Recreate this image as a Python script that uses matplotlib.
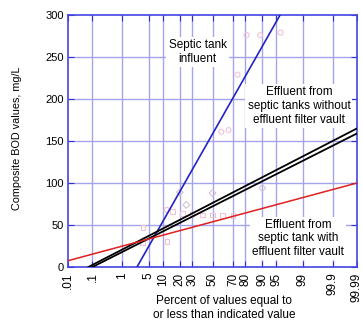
import numpy as np
import matplotlib
matplotlib.use("Agg")
import matplotlib.pyplot as plt
from statistics import NormalDist

plt.rcParams['font.family'] = ['Liberation Sans', 'DejaVu Sans']

# probability axis ticks (percent)
pct_ticks = [0.01, 0.1, 1, 5, 10, 20, 30, 50, 70, 80, 90, 95, 99, 99.9, 99.99]
pct_labels = ['.01', '.1', '1', '5', '10', '20', '30', '50', '70', '80', '90', '95', '99', '99.9', '99.99']
bod_ticks = [0, 50, 100, 150, 200, 250, 300]

# fitted lines (percent, BOD)
influent_pct = [2.6, 95.9]
influent_bod = [0, 300]
nofilter_a_pct = [0.07, 99.99]
nofilter_a_bod = [0, 165]
nofilter_b_pct = [0.1, 99.99]
nofilter_b_bod = [0, 159]
filter_pct = [0.01, 99.99]
filter_bod = [7.5, 100]

# observed points (faint)
inf_obs_pct = [12, 59, 66, 74, 81, 89, 96]
inf_obs_bod = [68, 161, 163, 229, 276, 276, 279]
nof_obs_pct = [20, 25, 50, 90]
nof_obs_bod = [89, 74, 88, 94]
fil_obs_pct = [3.6, 3.7, 12, 15, 22, 30, 40, 50, 60, 70]
fil_obs_bod = [29, 47, 30, 66, 64, 63, 62, 62, 61, 61]

nd = NormalDist()
_ppf = np.vectorize(lambda p: nd.inv_cdf(p), otypes=[float])
_cdf = np.vectorize(lambda z: nd.cdf(z), otypes=[float])


def fwd(p):
    p = np.clip(np.asarray(p, dtype=float), 1e-7, 100 - 1e-7)
    return _ppf(p / 100.0)


def inv(z):
    return _cdf(np.asarray(z, dtype=float)) * 100.0


fig = plt.figure(figsize=(3.62, 3.22), dpi=100)
ax = fig.add_axes([68 / 362, 1 - 267 / 322, 289 / 362, 252 / 322])
ax.set_xscale('function', functions=(fwd, inv))
ax.set_xlim(0.01, 99.99)
ax.set_ylim(0, 300)

gridc = '#a4a4ec'
for p in pct_ticks[1:-1]:
    ax.axvline(p, color=gridc, lw=1, zorder=0)
for b in bod_ticks[1:-1]:
    ax.axhline(b, color=gridc, lw=1, zorder=0)

ax.scatter(inf_obs_pct, inf_obs_bod, s=13, marker='o', facecolors='none',
           edgecolors='#efc4da', lw=0.8, zorder=1)
ax.scatter(nof_obs_pct, nof_obs_bod, s=12, marker='D', facecolors='none',
           edgecolors='#d8c4d2', lw=0.8, zorder=1)
ax.scatter(fil_obs_pct, fil_obs_bod, s=11, marker='s', facecolors='none',
           edgecolors='#efc4d2', lw=0.8, zorder=1)

ax.plot(influent_pct, influent_bod, color='#2424c0', lw=1.2, zorder=3)
ax.plot(nofilter_a_pct, nofilter_a_bod, color='black', lw=1.3, zorder=3)
ax.plot(nofilter_b_pct, nofilter_b_bod, color='black', lw=1.3, zorder=3)
ax.plot(filter_pct, filter_bod, color='#e02020', lw=1.1, zorder=3)

box = dict(facecolor='white', edgecolor='none', pad=1.5)
ax.text(35, 256, 'Septic tank\ninfluent', ha='center', va='center',
        fontsize=8.5, linespacing=1.2, bbox=box, zorder=2)
ax.text(98.7, 192, 'Effluent from\nseptic tanks without\neffluent filter vault',
        ha='center', va='center', fontsize=8.5, linespacing=1.2, bbox=box, zorder=2)
ax.text(98.6, 34, 'Effluent from\nseptic tank with\neffluent filter vault',
        ha='center', va='center', fontsize=8.5, linespacing=1.2, bbox=box, zorder=2)

ax.set_xticks(pct_ticks)
ax.set_xticklabels(pct_labels, rotation=90, fontsize=8.5)
ax.set_yticks(bod_ticks)
ax.set_yticklabels([str(b) for b in bod_ticks], fontsize=8)
ax.minorticks_off()
ax.tick_params(direction='in', length=4, color='#3030d0', top=True, right=True,
               pad=3)
ax.tick_params(axis='x', pad=4)
for s in ax.spines.values():
    s.set_color('#4444e0')
    s.set_linewidth(1.2)

ax.set_ylabel('Composite BOD values, mg/L', fontsize=7.8)
ax.yaxis.set_label_coords(-0.158, 0.51)
ax.set_xlabel('Percent of values equal to\nor less than indicated value',
              fontsize=8.5, linespacing=1.15)
ax.xaxis.set_label_coords(0.54, -0.113)

fig.savefig('out.png', dpi=100)
